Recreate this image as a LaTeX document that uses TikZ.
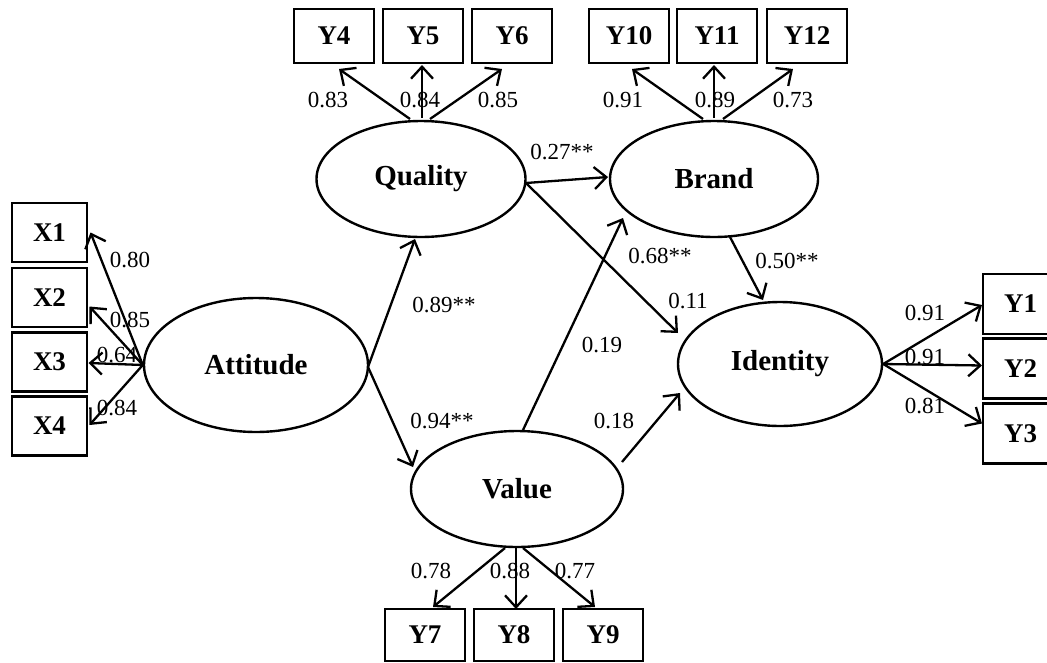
\documentclass[tikz,border=0pt]{standalone}
\usepackage{fontspec}
\setmainfont{Liberation Serif}
\usetikzlibrary{shapes.geometric,arrows.meta,calc}
\begin{document}
\begin{tikzpicture}[x=1pt,y=-1pt,
  lat/.style={ellipse,draw,line width=2.4pt,inner sep=0pt,font=\fontsize{29}{29}\selectfont\bfseries},
  obs/.style={rectangle,draw,line width=2.8pt,inner sep=0pt,minimum width=80pt,minimum height=54pt,font=\fontsize{27}{27}\selectfont\bfseries},
  obsx/.style={obs,minimum width=75pt,minimum height=59pt},
  arr/.style={line width=2.3pt,-{Straight Barb[length=12pt,width=22pt]}},
  coef/.style={font=\fontsize{23}{23}\selectfont,inner sep=0pt}]
\useasboundingbox (0,0) rectangle (1047,662);

% latent variables
\node[lat,minimum width=224pt,minimum height=134pt] (att) at (256,365) {Attitude};
\node[lat,minimum width=209pt,minimum height=116pt] (qual) at (421,179) {Quality};
\node[lat,minimum width=208pt,minimum height=116pt] (brand) at (714,179) {Brand};
\node[lat,minimum width=212pt,minimum height=116pt] (val) at (517,489) {Value};
\node[lat,minimum width=204pt,minimum height=124pt] (iden) at (780,364) {Identity};

% indicators
\node[obsx] (X1) at (49.5,232.5) {X1};
\node[obsx] (X2) at (49.5,297.5) {X2};
\node[obsx] (X3) at (49.5,362) {X3};
\node[obsx] (X4) at (49.5,426) {X4};
\node[obs] (Y4) at (334,36) {Y4};
\node[obs] (Y5) at (423,36) {Y5};
\node[obs] (Y6) at (512,36) {Y6};
\node[obs] (Y10) at (629,36) {Y10};
\node[obs] (Y11) at (717,36) {Y11};
\node[obs] (Y12) at (807,36) {Y12};
\node[obsx,minimum height=60pt] (Y1) at (1020.5,304) {Y1};
\node[obsx,minimum height=60pt] (Y2) at (1020.5,368.5) {Y2};
\node[obsx,minimum height=60pt] (Y3) at (1020.5,433.5) {Y3};
\node[obs,minimum height=52pt] (Y7) at (425,635) {Y7};
\node[obs,minimum height=52pt] (Y8) at (514,635) {Y8};
\node[obs,minimum height=52pt] (Y9) at (603,635) {Y9};

% loadings of Attitude
\draw[arr] (att.west) -- ($(X1.center)+(41,0)$);
\draw[arr] (att.west) -- ($(X2.center)+(40,9)$);
\draw[arr] (att.west) -- ($(X3.center)+(39,1)$);
\draw[arr] (att.west) -- ($(X4.center)+(40,-1)$);

% loadings of Quality
\draw[arr] ($(qual.center)+(-11,-60)$) -- ($(Y4.center)+(5,33)$);
\draw[arr] ($(qual.center)+(1,-61)$) -- ($(Y5.center)+(-1,29)$);
\draw[arr] ($(qual.center)+(9,-60)$) -- ($(Y6.center)+(-10,33)$);

% loadings of Brand
\draw[arr] ($(brand.center)+(-11,-60)$) -- ($(Y10.center)+(3,33)$);
\draw[arr] ($(brand.center)+(0,-61)$) -- ($(Y11.center)+(-3,29)$);
\draw[arr] ($(brand.center)+(9,-60)$) -- ($(Y12.center)+(-14,33)$);

% loadings of Value
\draw[arr] ($(val.center)+(-12,59)$) -- ($(Y7.center)+(8,-28)$);
\draw[arr] ($(val.center)+(-1,59)$) -- ($(Y8.center)+(2,-26)$);
\draw[arr] ($(val.center)+(6,59)$) -- ($(Y9.center)+(-8,-28)$);

% loadings of Identity
\draw[arr] (iden.east) -- ($(Y1.center)+(-38.5,1)$);
\draw[arr] (iden.east) -- ($(Y2.center)+(-38.5,-3)$);
\draw[arr] (iden.east) -- ($(Y3.center)+(-38.5,-10)$);

% structural paths
\draw[arr] ($(att.center)+(112,2)$) -- ($(qual.center)+(-6,60)$);
\draw[arr] ($(att.center)+(112,2)$) -- ($(val.center)+(-104,-22)$);
\draw[arr] ($(val.center)+(6,-59)$) -- ($(brand.center)+(-91,39)$);
\draw[arr] ($(qual.center)+(105,4)$) -- ($(brand.center)+(-106,-2)$);
\draw[arr] ($(qual.center)+(105,4)$) -- ($(iden.center)+(-102,-31)$);
\draw[arr] ($(brand.center)+(16,58)$) -- ($(iden.center)+(-17,-64)$);
\draw[arr] ($(val.center)+(105,-27)$) -- ($(iden.center)+(-100,29)$);

% coefficients
\node[coef] (c1) at (130,260) {0.80};
\node[coef] (c2) at (130,320) {0.85};
\node[coef] (c3) at (117,355) {0.64};
\node[coef] (c4) at (117,408) {0.84};
\node[coef] (c5) at (328,100) {0.83};
\node[coef] (c6) at (420,100) {0.84};
\node[coef] (c7) at (498,100) {0.85};
\node[coef] (c8) at (623,100) {0.91};
\node[coef] (c9) at (715,100) {0.89};
\node[coef] (c10) at (793,100) {0.73};
\node[coef] (c11) at (562,152) {0.27**};
\node[coef] (c12) at (660,256) {0.68**};
\node[coef] (c13) at (787,261) {0.50**};
\node[coef] (c14) at (688,301) {0.11};
\node[coef] (c15) at (602,345) {0.19};
\node[coef] (c16) at (614,421) {0.18};
\node[coef] (c17) at (444,305) {0.89**};
\node[coef] (c18) at (442,421) {0.94**};
\node[coef] (c19) at (925,313) {0.91};
\node[coef] (c20) at (925,357) {0.91};
\node[coef] (c21) at (925,406) {0.81};
\node[coef] (c22) at (431,571) {0.78};
\node[coef] (c23) at (510,571) {0.88};
\node[coef] (c24) at (575,571) {0.77};
\end{tikzpicture}
\end{document}
